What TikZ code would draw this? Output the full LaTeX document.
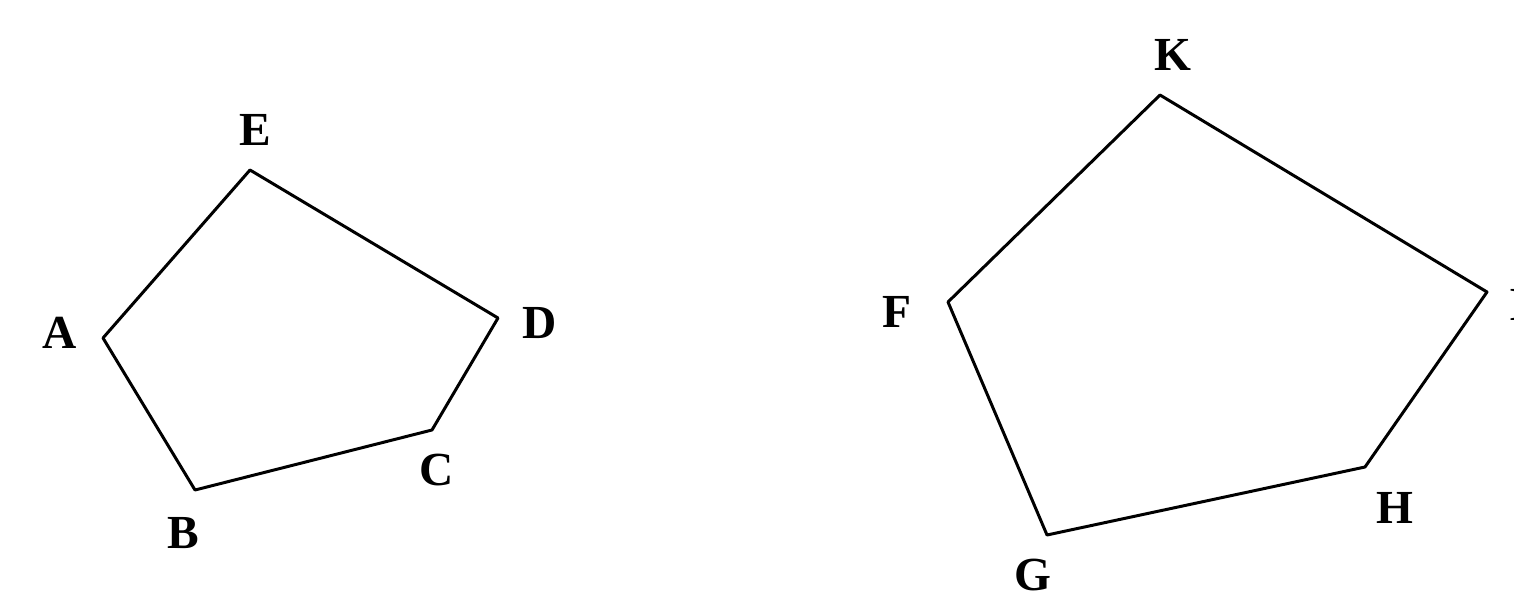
\documentclass[tikz,border=0pt]{standalone}
\usepackage{fontspec}
\setmainfont{Liberation Serif}
\begin{document}
\begin{tikzpicture}[x=0.02cm,y=-0.02cm,
  edge/.style={line width=1.7pt,line join=round,line cap=round},
  lbl/.style={font=\fontsize{27}{30}\selectfont\bfseries,inner sep=0pt}]
\useasboundingbox (0,0) rectangle (1514,605);
% left pentagon
\coordinate (A) at (103,338);
\coordinate (E) at (250,170);
\coordinate (D) at (498,318);
\coordinate (C) at (432,430);
\coordinate (B) at (195,490);
\draw[edge] (A) -- (E) -- (D) -- (C) -- (B) -- cycle;
\node[lbl] (lA) at (60,333) {A};
\node[lbl] (lE) at (255,130) {E};
\node[lbl] (lD) at (540,323) {D};
\node[lbl] (lC) at (437,470) {C};
\node[lbl] (lB) at (183,533) {B};
% right pentagon
\coordinate (K) at (1160,95);
\coordinate (I) at (1487,292);
\coordinate (H) at (1365,467);
\coordinate (G) at (1047,535);
\coordinate (F) at (948,302);
\draw[edge] (F) -- (K) -- (I) -- (H) -- (G) -- cycle;
\node[lbl] (lK) at (1173,55) {K};
\node[lbl] (lF) at (897,312) {F};
\node[lbl] (lH) at (1395,508) {H};
\node[lbl] (lG) at (1033,575) {G};
\node[lbl] (lI) at (1519,305) {I};
\end{tikzpicture}
\end{document}
